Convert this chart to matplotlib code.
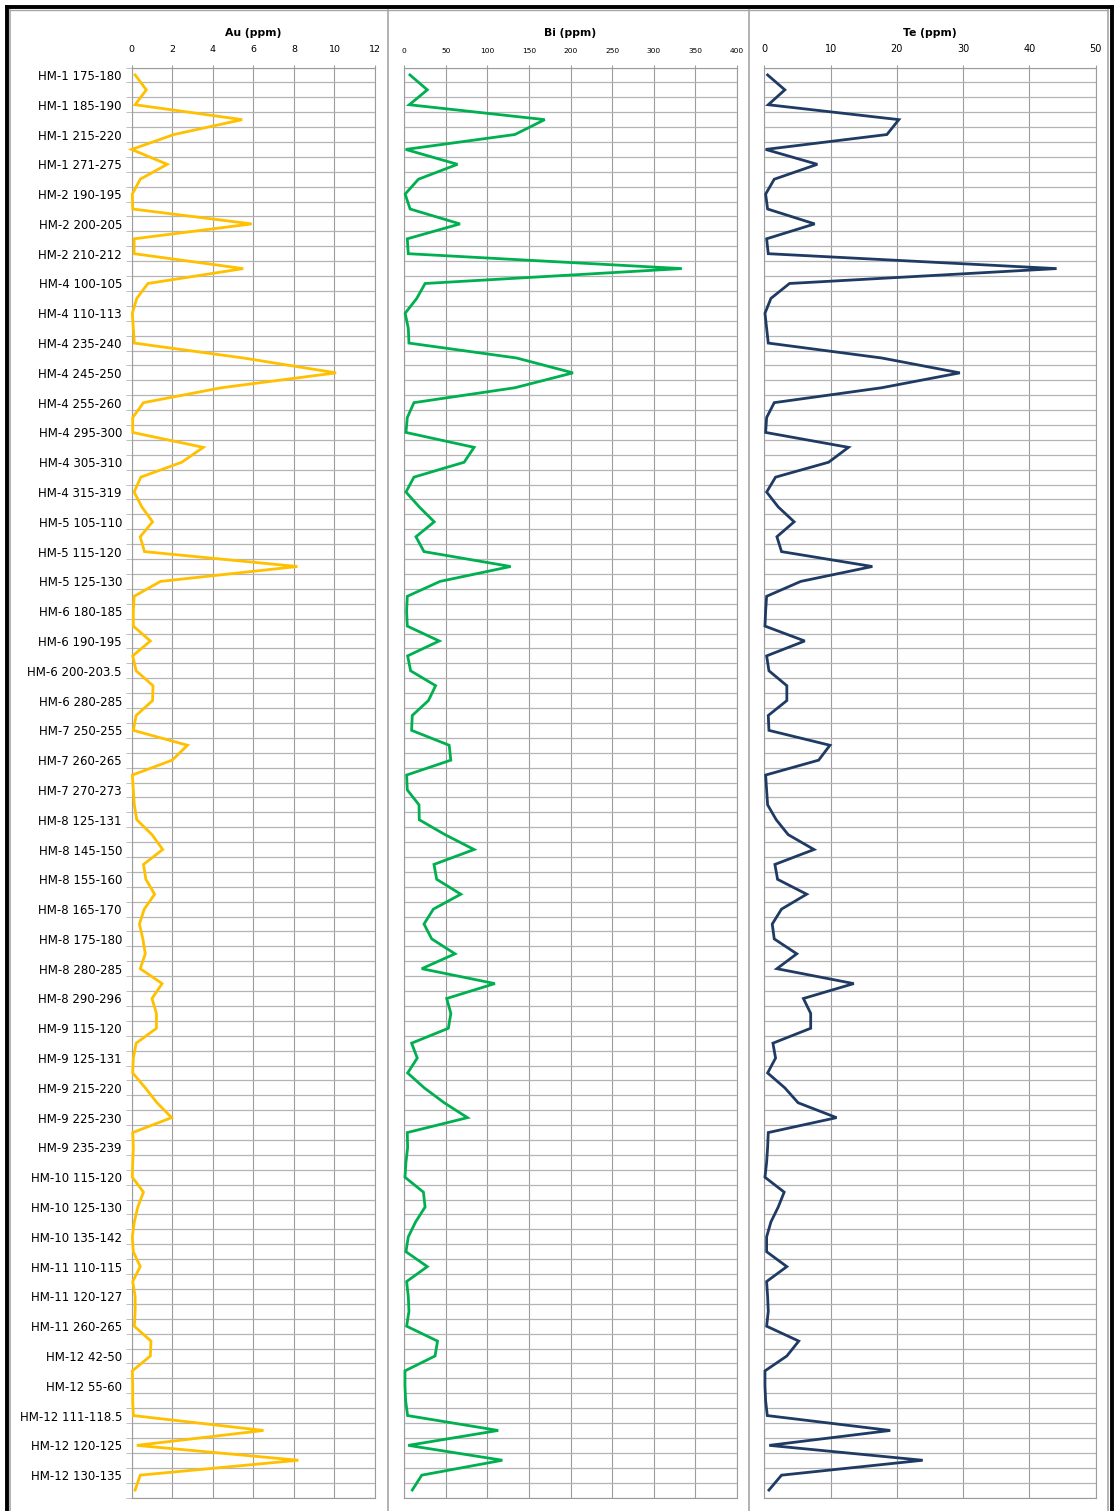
import numpy as np
import matplotlib
matplotlib.use('Agg')
import matplotlib.pyplot as plt
from matplotlib.lines import Line2D
from matplotlib.ticker import FixedLocator

# sample labels (Excel shows only every second category)
shown_labels = ['HM-1 175-180', 'HM-1 185-190', 'HM-1 215-220', 'HM-1 271-275',
                'HM-2 190-195', 'HM-2 200-205', 'HM-2 210-212', 'HM-4 100-105',
                'HM-4 110-113', 'HM-4 235-240', 'HM-4 245-250', 'HM-4 255-260',
                'HM-4 295-300', 'HM-4 305-310', 'HM-4 315-319', 'HM-5 105-110',
                'HM-5 115-120', 'HM-5 125-130', 'HM-6 180-185', 'HM-6 190-195',
                'HM-6 200-203.5', 'HM-6 280-285', 'HM-7 250-255', 'HM-7 260-265',
                'HM-7 270-273', 'HM-8 125-131', 'HM-8 145-150', 'HM-8 155-160',
                'HM-8 165-170', 'HM-8 175-180', 'HM-8 280-285', 'HM-8 290-296',
                'HM-9 115-120', 'HM-9 125-131', 'HM-9 215-220', 'HM-9 225-230',
                'HM-9 235-239', 'HM-10 115-120', 'HM-10 125-130', 'HM-10 135-142',
                'HM-11 110-115', 'HM-11 120-127', 'HM-11 260-265', 'HM-12 42-50',
                'HM-12 55-60', 'HM-12 111-118.5', 'HM-12 120-125', 'HM-12 130-135']

au = [0.17, 0.72, 0.17, 5.45, 2.08, 0.0, 1.75, 0.42, 0.03, 0.05,
      5.92, 0.12, 0.12, 5.5, 0.8, 0.25, 0.03, 0.08, 0.13, 5.5,
      10.08, 4.42, 0.58, 0.05, 0.05, 3.53, 2.47, 0.45, 0.12, 0.5,
      1.03, 0.42, 0.63, 8.17, 1.42, 0.12, 0.08, 0.08, 0.92, 0.05,
      0.22, 1.05, 1.03, 0.22, 0.08, 2.75, 2.0, 0.03, 0.08, 0.13,
      0.25, 1.0, 1.53, 0.58, 0.7, 1.13, 0.62, 0.38, 0.55, 0.67,
      0.42, 1.5, 1.0, 1.22, 1.22, 0.22, 0.08, 0.05, 0.67, 1.25,
      1.97, 0.05, 0.08, 0.05, 0.03, 0.58, 0.3, 0.13, 0.03, 0.08,
      0.42, 0.05, 0.17, 0.17, 0.13, 0.95, 0.92, 0.03, 0.05, 0.05,
      0.08, 6.5, 0.25, 8.22, 0.42, 0.17]

bi = [6.8, 27.7, 6, 169, 133, 1.6, 64, 17, 1, 7,
      67, 3.6, 4.8, 334, 25, 15, 1, 4.8, 5.6, 135,
      203, 133, 11.6, 3.6, 2, 84, 72, 11.6, 2, 18,
      36, 14, 23.7, 128, 43, 3.6, 2.8, 3.6, 42, 4,
      7.6, 37.7, 29, 9.6, 8.8, 54, 56, 2.8, 3.6, 17.7,
      18, 49, 84, 35.7, 39, 68, 35, 23.7, 33, 61,
      21, 109, 51, 56, 53, 8.8, 15.6, 4, 24, 48,
      76, 3.6, 4, 2, 0.8, 23, 25, 13.6, 4.8, 2,
      27.7, 2.8, 4.8, 5.6, 2.8, 40, 37, 0.8, 0.8, 1.6,
      4, 113, 4.8, 118, 21, 9.6]

te = [0.5, 3.1, 0.6, 20.3, 18.5, 0.2, 8.0, 1.5, 0.2, 0.5,
      7.6, 0.35, 0.6, 44.1, 3.8, 1.0, 0.1, 0.35, 0.6, 17.7,
      29.5, 17.7, 1.5, 0.35, 0.2, 12.7, 9.7, 1.7, 0.35, 2.1,
      4.5, 1.9, 2.6, 16.3, 5.5, 0.35, 0.2, 0.1, 6.1, 0.35,
      0.7, 3.4, 3.4, 0.6, 0.7, 9.9, 8.2, 0.2, 0.35, 0.5,
      1.8, 3.6, 7.5, 1.6, 2.0, 6.4, 2.6, 1.2, 1.5, 4.9,
      1.9, 13.5, 5.9, 7.0, 7.0, 1.3, 1.7, 0.5, 3.1, 5.1,
      10.9, 0.6, 0.5, 0.35, 0.1, 3.0, 2.1, 1.0, 0.35, 0.35,
      3.4, 0.35, 0.5, 0.6, 0.35, 5.2, 3.4, 0.1, 0.1, 0.2,
      0.45, 19.0, 0.75, 23.9, 2.6, 0.7]

titles = ['Au (ppm)', 'Bi (ppm)', 'Te (ppm)']
colors = ['#FFC000', '#00B050', '#1F3B64']
xmax = [12, 400, 50]
xstep = [2, 50, 10]
xfont = [6.8, 5.4, 7]

W, H = 1114, 1511
fig = plt.figure(figsize=(W / 100, H / 100), dpi=100)
grid_c = '#9C9C9C'
hgrid_c = '#B4B4B4'

def fx(px):
    return px / W

def fy(py):
    return 1 - py / H

n = len(au)
ypos = np.arange(n)
top_px, bot_px = 67.5, 1497.5
panels = [(131.7, 375.0), (404.3, 736.7), (764.3, 1095.7)]

for k, series in enumerate([au, bi, te]):
    l, r = panels[k]
    ax = fig.add_axes([fx(l), fy(bot_px), fx(r - l), (bot_px - top_px) / H])
    ax.plot(series, ypos, color=colors[k], lw=2.0, solid_joinstyle='miter',
            clip_on=False, zorder=5)
    ax.set_xlim(0, xmax[k])
    ax.set_ylim(n - 0.5, -0.5)
    ax.set_xticks(np.arange(0, xmax[k] + 1, xstep[k]))
    ax.xaxis.tick_top()
    ax.tick_params(axis='x', length=2, color=grid_c, pad=8, labelsize=xfont[k])
    ax.grid(axis='x', color=grid_c, lw=0.8)
    ax.yaxis.set_minor_locator(FixedLocator(np.arange(n + 1) - 0.5))
    ax.grid(axis='y', which='minor', color=hgrid_c, lw=0.9)
    if k == 0:
        ax.set_yticks(ypos[::2])
        ax.set_yticklabels(shown_labels, fontsize=8.5)
        ax.tick_params(axis='y', which='major', length=0, pad=7)
        ax.tick_params(axis='y', which='minor', length=4, color=hgrid_c)
    else:
        ax.set_yticks([])
        ax.tick_params(axis='y', which='minor', length=0)
    for s in ax.spines.values():
        s.set_color(grid_c)
        s.set_linewidth(0.8)
    ax.text(0.5, 1 + 34.5 / (bot_px - top_px), titles[k], transform=ax.transAxes,
            ha='center', va='center', fontsize=7.8, fontweight='bold')

# chart borders (gray) and outer frame (black)
for x in [9.5, 387.5, 748.5, 1108]:
    fig.add_artist(Line2D([fx(x), fx(x)], [fy(9.5), 0], color='#A6A6A6', lw=1.2))
fig.add_artist(Line2D([fx(9.5), fx(1108)], [fy(9.5), fy(9.5)], color='#A6A6A6', lw=1.0))
fig.add_artist(Line2D([fx(6.5), fx(1111.5)], [fy(6.5), fy(6.5)], color='black', lw=2.8))
fig.add_artist(Line2D([fx(6.5), fx(6.5)], [fy(6.5), 0], color='black', lw=2.8))
fig.add_artist(Line2D([fx(1111.5), fx(1111.5)], [fy(6.5), 0], color='black', lw=2.8))

fig.savefig('out.png', dpi=100)
